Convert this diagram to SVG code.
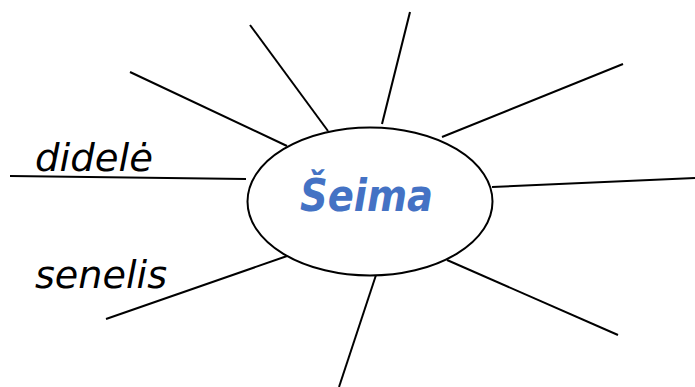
<svg xmlns="http://www.w3.org/2000/svg" width="695" height="387" viewBox="0 0 695 387">
<style>
.ln{stroke:#000;stroke-width:2;fill:none;stroke-linecap:butt}
.lbl{font-family:"DejaVu Sans","Liberation Sans",sans-serif;font-style:italic;font-size:37px;fill:#000}
.ttl{font-family:"DejaVu Sans","Liberation Sans",sans-serif;font-style:italic;font-weight:bold;font-size:44px;fill:#4472C4}
</style>
<rect width="695" height="387" fill="#fff"/>
<g id="connectors">
<line class="ln" x1="130" y1="72" x2="287" y2="146"/>
<line class="ln" x1="250" y1="25" x2="328" y2="131"/>
<line class="ln" x1="410" y1="12" x2="382" y2="124"/>
<line class="ln" x1="623" y1="64" x2="442" y2="137"/>
<line class="ln" x1="695" y1="178" x2="492" y2="187"/>
<line class="ln" x1="618" y1="335" x2="447" y2="260"/>
<line class="ln" x1="378" y1="269" x2="339" y2="387"/>
<line class="ln" x1="106" y1="319" x2="290" y2="255"/>
<line class="ln" x1="10" y1="176" x2="246" y2="179"/>
</g>
<g id="center">
<ellipse cx="370" cy="201.5" rx="122.5" ry="74" fill="#fff" stroke="#000" stroke-width="2"/>
<text class="ttl" x="300" y="211" textLength="133" lengthAdjust="spacingAndGlyphs">Šeima</text>
</g>
<g id="label-didele">
<text class="lbl" x="35" y="171" textLength="118" lengthAdjust="spacingAndGlyphs">didelė</text>
</g>
<g id="label-senelis">
<text class="lbl" x="35" y="288" textLength="132" lengthAdjust="spacingAndGlyphs">senelis</text>
</g>
</svg>
